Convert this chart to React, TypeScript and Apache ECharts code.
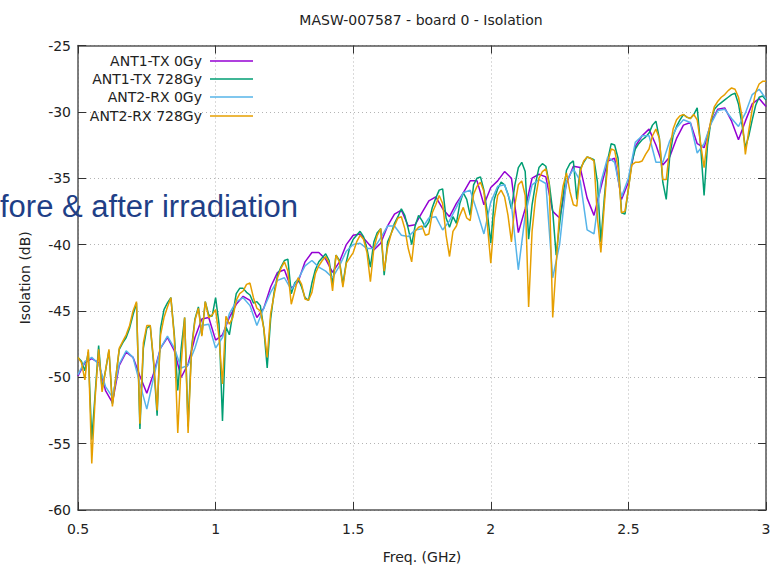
import React, { useEffect, useRef } from "react";
import * as echarts from "echarts";

// Isolation sweep, 0.5–3 GHz
const TITLE = "MASW-007587 - board 0 - Isolation";
const SERIES_NAMES = ["ANT1-TX 0Gy", "ANT1-TX 728Gy", "ANT2-RX 0Gy", "ANT2-RX 728Gy"];
const SERIES_COLORS = ["#9400d3", "#009e73", "#56b4e9", "#e69f00"];

// frequency grids (GHz)
const freqCoarse: number[] = Array.from({ length: 101 }, (_, i) => +(0.5 + i * 0.025).toFixed(4));
const freqFine: number[] = Array.from({ length: 201 }, (_, i) => +(0.5 + i * 0.0125).toFixed(4));

// ANT1-TX 0Gy (dB), 25 MHz step
const ant1Tx0: number[] = [
  -49.9, -48.9, -48.6, -48.9, -51.0, -51.9, -49.1, -48.1, -48.5, -49.9,
  -51.2, -49.7, -47.8, -47.0, -48.0, -50.0, -49.0, -47.0, -45.6, -45.5,
  -47.2, -46.8, -45.5, -44.5, -43.9, -44.2, -45.5, -44.8, -43.2, -42.1,
  -41.9, -43.3, -42.8, -41.3, -40.6, -40.6, -41.1, -42.1, -41.3, -40.0,
  -39.3, -39.2, -39.8, -40.4, -39.9, -38.6, -37.7, -37.4, -38.6, -38.5,
  -37.6, -36.7, -36.4, -37.3, -37.9, -36.9, -36.1, -35.2, -35.2, -37.0,
  -35.7, -35.2, -34.5, -35.0, -39.1, -37.3, -35.0, -34.7, -34.9, -37.5,
  -38.0, -35.4, -34.1, -34.2, -36.5, -37.8, -35.7, -33.7, -33.5, -36.6,
  -35.3, -32.6, -31.8, -31.3, -32.5, -34.0, -33.4, -32.0, -31.0, -30.8,
  -32.4, -32.7, -30.8, -29.8, -29.7, -30.7, -32.1, -30.7, -29.4, -29.0,
  -29.6,
];

// ANT2-RX 0Gy (dB), 25 MHz step
const ant2Rx0: number[] = [
  -49.8, -48.8, -48.5, -49.0, -50.7, -51.5, -49.0, -48.0, -48.5, -50.5,
  -52.4, -50.0, -47.8, -46.9, -47.8, -49.3, -49.1, -47.8, -46.1, -46.0,
  -47.8, -47.0, -45.2, -44.3, -44.0, -44.6, -46.1, -44.8, -43.6, -42.7,
  -42.5, -43.4, -42.6, -41.6, -41.2, -41.7, -42.0, -42.5, -41.6, -40.5,
  -40.0, -39.9, -40.3, -40.3, -39.5, -38.6, -38.6, -39.3, -39.4, -38.9,
  -38.8, -38.0, -37.9, -38.9, -38.2, -37.2, -36.1, -35.9, -37.5, -39.2,
  -36.8, -35.6, -35.5, -37.0, -41.9, -37.8, -35.5, -35.1, -35.4, -42.5,
  -40.0, -35.2, -34.3, -35.2, -38.9, -39.2, -35.3, -33.4, -33.8, -36.4,
  -35.0, -32.3, -31.8, -31.8, -33.8, -33.8, -32.2, -31.2, -30.6, -30.8,
  -33.1, -32.4, -30.9, -29.9, -29.8, -30.5, -31.1, -30.1, -28.7, -28.3,
  -29.0,
];

// ANT1-TX 728Gy (dB), 12.5 MHz step
const ant1Tx728: number[] = [
  -48.5, -48.8, -49.5, -48.1, -54.7, -51.2, -47.6, -50.9, -49.5, -48.0,
  -52.0, -50.0, -47.9, -47.4, -47.0, -46.3, -45.3, -44.4, -53.9, -47.8,
  -46.3, -46.1, -49.0, -52.9, -46.3, -44.9, -44.4, -44.0, -46.8, -51.0,
  -47.8, -45.5, -53.7, -47.8, -45.6, -44.7, -46.8, -44.3, -45.3, -45.4,
  -44.0, -46.0, -53.3, -46.2, -46.8, -45.2, -43.7, -43.3, -43.3, -43.6,
  -43.8, -44.4, -44.3, -44.6, -46.3, -49.3, -45.6, -43.6, -42.3, -41.7,
  -41.2, -41.1, -43.7, -42.9, -42.6, -43.2, -44.0, -44.2, -42.9, -41.9,
  -41.3, -41.0, -40.7, -41.2, -43.0, -40.8, -41.2, -43.0, -41.3, -40.2,
  -39.6, -39.3, -39.0, -39.4, -40.3, -41.7, -39.8, -39.1, -38.8, -42.3,
  -39.8, -39.2, -38.4, -37.9, -37.3, -37.8, -38.8, -40.0, -38.6, -37.8,
  -38.2, -38.7, -38.3, -37.2, -36.5, -35.9, -35.8, -38.0, -38.7, -37.9,
  -38.4, -36.9, -36.1, -36.6, -37.8, -35.5, -35.0, -34.9, -35.9, -37.6,
  -39.9, -36.6, -35.8, -35.3, -35.5, -36.2, -37.3, -35.5, -34.2, -33.8,
  -34.5, -39.6, -37.0, -35.4, -34.2, -33.9, -34.1, -35.4, -37.5, -40.8,
  -38.5, -36.3, -34.4, -33.9, -33.7, -36.6, -34.3, -33.8, -33.4, -33.5,
  -33.6, -35.3, -39.8, -36.5, -33.6, -32.4, -32.5, -33.5, -37.6, -37.7,
  -35.8, -33.8, -32.8, -32.4, -32.1, -31.9, -31.6, -31.0, -30.7, -32.0,
  -35.3, -36.6, -33.4, -31.8, -31.1, -30.6, -30.2, -30.4, -30.5, -30.2,
  -29.7, -32.6, -36.3, -32.5, -30.7, -29.8, -29.5, -29.3, -29.1, -28.9,
  -28.7, -28.6, -29.4, -30.9, -32.7, -31.8, -30.6, -29.5, -28.9, -28.8,
  -29.1,
];

// ANT2-RX 728Gy (dB), 12.5 MHz step
const ant2Rx728: number[] = [
  -48.5, -48.9, -50.2, -47.9, -56.5, -51.5, -47.9, -51.1, -49.5, -47.9,
  -52.2, -50.0, -47.8, -47.3, -46.8, -46.1, -45.0, -44.3, -53.5, -47.4,
  -46.1, -46.1, -48.8, -52.5, -46.8, -45.5, -44.7, -44.0, -47.0, -54.2,
  -49.0, -45.5, -54.2, -48.0, -45.7, -44.8, -46.9, -44.3, -45.5, -45.3,
  -44.9, -47.0, -50.5, -45.4, -46.0, -45.5, -44.2, -43.7, -43.5, -43.0,
  -42.9, -44.0, -44.8, -45.0, -46.3, -48.5, -45.2, -43.8, -42.5, -41.8,
  -41.3, -42.0, -44.5, -43.5, -42.5, -43.0, -44.1, -44.2, -43.6, -42.2,
  -41.6, -41.2, -40.9, -41.4, -43.5, -40.8, -41.3, -43.2, -41.4, -41.0,
  -40.6, -39.8, -39.3, -39.6, -40.6, -42.8, -40.3, -39.3, -38.8, -42.0,
  -40.2, -39.2, -38.6, -38.0, -37.9, -38.8, -40.3, -41.3, -39.0, -38.7,
  -38.6, -39.3, -39.2, -37.6, -37.0, -36.3, -36.9, -39.3, -40.9, -39.0,
  -38.6, -37.8, -37.2, -38.0, -38.2, -36.2, -35.6, -35.3, -36.0, -38.5,
  -41.4, -38.0, -36.3, -35.9, -36.4, -37.8, -39.8, -37.0, -35.5, -35.2,
  -36.3, -44.7, -39.0, -36.5, -35.0, -34.5, -34.3, -35.5, -45.5, -41.5,
  -37.5, -35.6, -34.6, -36.0, -37.0, -37.1, -34.5, -33.7, -33.4, -33.5,
  -33.7, -38.0, -40.6, -37.0, -33.8, -32.8, -32.9, -34.2, -37.6, -37.5,
  -35.8, -34.0, -33.8, -33.8, -33.7, -33.2, -32.8, -31.8, -31.3, -32.0,
  -35.1, -35.1, -32.8, -31.3, -30.6, -30.3, -30.2, -30.4, -30.5, -30.2,
  -30.6, -32.4, -34.2, -32.0, -30.6, -29.6, -29.2, -28.9, -28.7, -28.4,
  -28.2, -28.3, -28.9, -30.3, -33.2, -31.4, -29.8, -28.5, -27.9, -27.7,
  -27.7,
];

const FONT = "'DejaVu Sans', Verdana, sans-serif";
const TEXT_COLOR = "#222";
const LEGEND_ROWS = [61, 79, 97, 116];

const pairs = (xs: number[], ys: number[]) => xs.map((x, i) => [x, ys[i]]);

export default function App() {
  const ref = useRef<HTMLDivElement>(null);

  useEffect(() => {
    if (!ref.current) return;
    const chart = echarts.init(ref.current, undefined, { renderer: "svg" });

    const seriesData = [
      pairs(freqCoarse, ant1Tx0),
      pairs(freqFine, ant1Tx728),
      pairs(freqCoarse, ant2Rx0),
      pairs(freqFine, ant2Rx728),
    ];

    const axisLine = { show: true, lineStyle: { color: "#555", width: 1.5 } };
    const axisTick = { show: true, inside: true, length: 8, lineStyle: { color: "#333", width: 1 } };
    const dotted = { show: true, lineStyle: { color: "#b4b4b4", width: 1, type: [1, 3] } };

    chart.setOption({
      animation: false,
      backgroundColor: "#fff",
      title: {
        text: TITLE,
        left: 416,
        top: 8,
        textAlign: "center",
        textStyle: { fontFamily: FONT, fontSize: 14, fontWeight: "normal", color: TEXT_COLOR },
      },
      legend: SERIES_NAMES.map((name, i) => ({
        data: [name],
        right: 524,
        top: LEGEND_ROWS[i] - 8,
        padding: 0,
        align: "right",
        icon: "rect",
        itemWidth: 43,
        itemHeight: 1.5,
        selectedMode: false,
        textStyle: {
          fontFamily: FONT,
          fontSize: 14,
          color: TEXT_COLOR,
          lineHeight: 16,
          padding: [0, 3, 0, 0],
        },
      })),
      grid: { left: 78, right: 11, top: 45.5, bottom: 55.5, containLabel: false },
      xAxis: [
        {
          type: "value",
          min: 0.5,
          max: 3,
          interval: 0.5,
          position: "bottom",
          axisLine,
          axisTick,
          splitLine: dotted,
          axisLabel: { margin: 12, fontFamily: FONT, fontSize: 14, color: TEXT_COLOR },
          name: "Freq. (GHz)",
          nameLocation: "middle",
          nameGap: 40,
          nameTextStyle: { fontFamily: FONT, fontSize: 14, color: TEXT_COLOR },
        },
        {
          type: "value",
          min: 0.5,
          max: 3,
          interval: 0.5,
          position: "top",
          axisLine,
          axisTick,
          axisLabel: { show: false },
          splitLine: { show: false },
        },
      ],
      yAxis: [
        {
          type: "value",
          min: -60,
          max: -25,
          interval: 5,
          position: "left",
          axisLine,
          axisTick,
          splitLine: dotted,
          axisLabel: { margin: 7, fontFamily: FONT, fontSize: 14, color: TEXT_COLOR },
          name: "Isolation (dB)",
          nameLocation: "middle",
          nameRotate: 90,
          nameGap: 46,
          nameTextStyle: { fontFamily: FONT, fontSize: 14, color: TEXT_COLOR },
        },
        {
          type: "value",
          min: -60,
          max: -25,
          interval: 5,
          position: "right",
          axisLine,
          axisTick,
          axisLabel: { show: false },
          splitLine: { show: false },
        },
      ],
      series: SERIES_NAMES.map((name, i) => ({
        name,
        type: "line",
        xAxisIndex: 0,
        yAxisIndex: 0,
        data: seriesData[i],
        symbol: "none",
        showSymbol: false,
        color: SERIES_COLORS[i],
        lineStyle: { color: SERIES_COLORS[i], width: 1.5 },
        z: 2 + i,
      })),
      graphic: [
        {
          type: "text",
          x: 0,
          y: 206,
          z: 100,
          style: {
            text: "fore & after irradiation",
            fill: "#1f3f87",
            fontSize: 31,
            fontFamily: "'Liberation Sans', Arial, sans-serif",
            align: "left",
            verticalAlign: "middle",
          },
        },
      ],
    });

    return () => chart.dispose();
  }, []);

  return (
    <div
      ref={ref}
      style={{ position: "absolute", left: 0, top: 0, width: 777, height: 569 }}
    />
  );
}
